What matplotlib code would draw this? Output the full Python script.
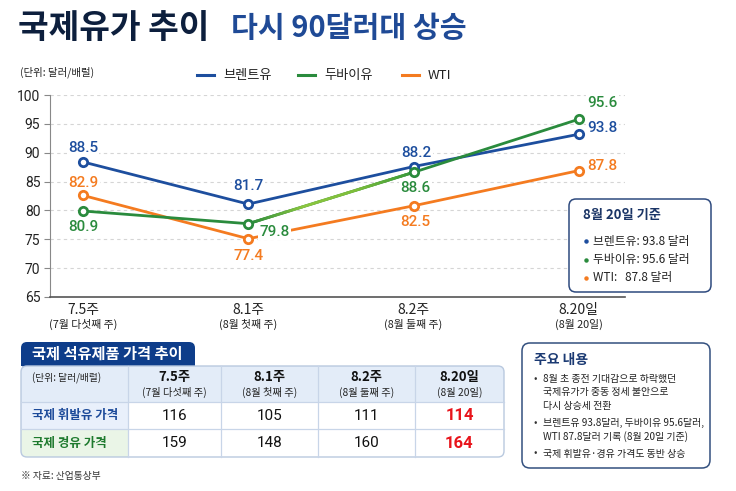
import numpy as np
import matplotlib
matplotlib.use("Agg")
import matplotlib.pyplot as plt
from matplotlib.patches import FancyBboxPatch, Rectangle
from matplotlib.collections import LineCollection
from matplotlib.colors import LinearSegmentedColormap
from matplotlib.transforms import blended_transform_factory

plt.rcParams['font.family'] = ['Noto Sans CJK KR', 'DejaVu Sans']
NUM_FONT = ['Roboto', 'Noto Sans CJK KR', 'DejaVu Sans']

# ---- 데이터 ----
periods = ['7.5주', '8.1주', '8.2주', '8.20일']
period_sub = ['(7월 다섯째 주)', '(8월 첫째 주)', '(8월 둘째 주)', '(8월 20일)']
series_names = ['브렌트유', '두바이유', 'WTI']
# 그림에 찍힌 위치에서 읽은 값
brent = [88.4, 81.1, 87.6, 93.2]
dubai = [79.9, 77.7, 86.6, 95.8]
wti = [82.6, 75.1, 80.8, 86.9]
# 라벨로 표기된 값
brent_lbl = ['88.5', '81.7', '88.2', '93.8']
dubai_lbl = ['80.9', '79.8', '88.6', '95.6']
wti_lbl = ['82.9', '77.4', '82.5', '87.8']
y_ticks = [65, 70, 75, 80, 85, 90, 95, 100]

table_rows = ['국제 휘발유 가격', '국제 경유 가격']
gasoline = [116, 105, 111, 114]
diesel = [159, 148, 160, 164]

C_BRENT = '#1d4e9e'
C_DUBAI = '#2a8b3d'
C_WTI = '#f47b20'
NAVY = '#0d1f3d'

fig = plt.figure(figsize=(7.36, 4.91), dpi=100)
fig.patch.set_facecolor('white')

# ---- 선 그래프 ----
ax = fig.add_axes([50 / 736, 1 - 297 / 491, 575 / 736, 202 / 491])
x = np.arange(len(periods))
ax.set_xlim(-0.2, 3.28)
ax.set_ylim(65, 100)
ax.set_yticks(y_ticks)
ax.set_yticklabels([str(v) for v in y_ticks], fontsize=10, color='#222222', family=NUM_FONT)
ax.set_xticks([])
for s in ['top', 'right']:
    ax.spines[s].set_visible(False)
ax.spines['left'].set_color('#888888')
ax.spines['bottom'].set_color('#555555')
ax.spines['bottom'].set_linewidth(1.2)
ax.tick_params(axis='y', length=4, color='#888888', pad=3)
for v in y_ticks[1:]:
    ax.axhline(v, color='#d5d5d5', lw=0.8, ls=(0, (3, 3)), zorder=0)

lw = 2.0
ax.plot(x, brent, color=C_BRENT, lw=lw, zorder=3)
ax.plot(x, wti, color=C_WTI, lw=lw, zorder=3)
ax.plot(x, dubai, color=C_DUBAI, lw=lw, zorder=3)

# 두바이유 8.1주 -> 8.2주 구간 그라데이션
t = np.linspace(0, 1, 41)
gx = x[1] + (x[2] - x[1]) * t
gy = dubai[1] + (dubai[2] - dubai[1]) * t
pts = np.column_stack([gx, gy]).reshape(-1, 1, 2)
segs = np.concatenate([pts[:-1], pts[1:]], axis=1)
cmap = LinearSegmentedColormap.from_list('g', ['#2a8b3d', '#8cc63f', '#7dbd3a', '#3a9a3a'])
lc = LineCollection(segs, cmap=cmap, lw=lw, zorder=3.1, capstyle='round')
lc.set_array(t[:-1])
ax.add_collection(lc)

for vals, col in [(brent, C_BRENT), (wti, C_WTI), (dubai, C_DUBAI)]:
    ax.plot(x, vals, ls='none', marker='o', ms=6, mfc='white', mec=col, mew=2, zorder=5)

lbl_kw = dict(textcoords='offset pixels', fontsize=11, fontweight='medium', family=NUM_FONT,
              ha='center', va='center', bbox=dict(fc='white', ec='none', pad=1.0))
brent_off = [(0, 14), (0, 18), (3, 14), (24, 6)]
dubai_off = [(0, -16), (26, -8), (2, -16), (24, 16)]
wti_off = [(0, 12), (0, -17), (2, -16), (24, 5)]
for vals, lbls, offs, col in [(brent, brent_lbl, brent_off, C_BRENT),
                              (dubai, dubai_lbl, dubai_off, C_DUBAI),
                              (wti, wti_lbl, wti_off, C_WTI)]:
    for i in range(len(vals)):
        ax.annotate(lbls[i], (x[i], vals[i]), xytext=offs[i], color=col, zorder=4, **lbl_kw)

tr = blended_transform_factory(ax.transData, ax.transAxes)
for i in range(len(periods)):
    ax.text(x[i], -0.065, periods[i], transform=tr, ha='center', va='center', fontsize=10, color='#222222')
    ax.text(x[i], -0.135, period_sub[i], transform=tr, ha='center', va='center', fontsize=7.8, color='#222222')

# ---- 오버레이 (제목, 범례, 박스, 표) ----
ov = fig.add_axes([0, 0, 1, 1], zorder=5)
ov.set_xlim(0, 736)
ov.set_ylim(491, 0)
ov.axis('off')

ov.text(18, 28, '국제유가 추이', fontsize=24, fontweight='bold', color=NAVY, va='center')
ov.text(231, 28, '다시 90달러대 상승', fontsize=21, fontweight='bold', color='#1f4a96', va='center')
ov.text(20, 72, '(단위: 달러/배럴)', fontsize=7.5, color='#222222', va='center')

leg_x = [197, 298, 402]
for lx, name, col in zip(leg_x, series_names, [C_BRENT, C_DUBAI, C_WTI]):
    ov.plot([lx, lx + 17], [75, 75], color=col, lw=2.2)
    ov.text(lx + 26, 75, name, fontsize=9.5, color='#222222', va='center')

# 8월 20일 기준 박스
box = FancyBboxPatch((569, 199), 142, 93, boxstyle='round,pad=0,rounding_size=7',
                     fc='white', ec='#2e4a7e', lw=1.1)
ov.add_patch(box)
ov.text(583, 215, '8월 20일 기준', fontsize=9.5, fontweight='bold', color='#1b3566', va='center')
info_vals = [brent_lbl[-1], dubai_lbl[-1], wti_lbl[-1]]
info_names = ['브렌트유: ', '두바이유: ', 'WTI:   ']
for j, (nm, v, col) in enumerate(zip(info_names, info_vals, [C_BRENT, C_DUBAI, C_WTI])):
    yy = 241 + j * 18.5
    ov.plot([586], [yy], marker='o', ms=2.2, color=col, ls='none')
    ov.text(593, yy, f'{nm}{v} 달러', fontsize=8.5, color='#222222', va='center')

# 표 제목 탭
tab = FancyBboxPatch((21, 342), 174, 26, boxstyle='round,pad=0,rounding_size=6', fc='#0e3d8a', ec='none')
ov.add_patch(tab)
ov.add_patch(Rectangle((21, 356), 174, 10, fc='#0e3d8a', ec='none'))
ov.text(32, 354, '국제 석유제품 가격 추이', fontsize=11, fontweight='bold', color='white', va='center')

# 표
tx0, tx1, ty0, ty1 = 21, 504, 366, 457
col_edges = [21, 128, 221, 318, 415, 504]
row_edges = [366, 402, 429, 457]
outer = FancyBboxPatch((tx0, ty0), tx1 - tx0, ty1 - ty0, boxstyle='round,pad=0,rounding_size=6',
                       fc='white', ec='none')
ov.add_patch(outer)
fills = [Rectangle((tx0, 366), tx1 - tx0, 36, fc='#e3ecf8', ec='none'),
         Rectangle((tx0, 402), 107, 27, fc='#e9f0fb', ec='none'),
         Rectangle((tx0, 429), 107, 28, fc='#eaf5e7', ec='none')]
for f in fills:
    ov.add_patch(f)
    f.set_clip_path(outer)
for ce in col_edges[1:-1]:
    ov.plot([ce, ce], [ty0, ty1], color='#c8d5e8', lw=0.9)
for re_ in row_edges[1:-1]:
    ov.plot([tx0, tx1], [re_, re_], color='#c8d5e8', lw=0.9)
ov.add_patch(FancyBboxPatch((tx0, ty0), tx1 - tx0, ty1 - ty0, boxstyle='round,pad=0,rounding_size=6',
                            fc='none', ec='#b9c9df', lw=1.0))

ov.text(32, 378, '(단위: 달러/배럴)', fontsize=7, color='#222222', va='center')
centers = [(col_edges[i] + col_edges[i + 1]) / 2 for i in range(1, 5)]
for i, cx in enumerate(centers):
    ov.text(cx, 377, periods[i], fontsize=9.5, fontweight='semibold', color='#111111', ha='center', va='center')
    ov.text(cx, 392, period_sub[i], fontsize=7.4, color='#222222', ha='center', va='center')

row_y = [416, 443]
row_cols = ['#1d4b9a', '#1e7a2e']
for r, (name, vals) in enumerate(zip(table_rows, [gasoline, diesel])):
    ov.text(32, row_y[r], name, fontsize=9, fontweight='bold', color=row_cols[r], va='center')
    for i, cx in enumerate(centers):
        last = i == len(centers) - 1
        ov.text(cx, row_y[r], str(vals[i]), fontsize=12 if last else 11, family=NUM_FONT,
                fontweight='bold' if last else 'normal',
                color='#e8141b' if last else '#111111', ha='center', va='center')

ov.text(21, 476, '※ 자료: 산업통상부', fontsize=7, color='#333333', va='center')

# 주요 내용 박스
ov.add_patch(FancyBboxPatch((522, 343), 188, 125, boxstyle='round,pad=0,rounding_size=8',
                            fc='white', ec='#33507f', lw=1.1))
ov.text(534, 360, '주요 내용', fontsize=10, fontweight='bold', color='#1b3a73', va='center')
notes = [['8월 초 종전 기대감으로 하락했던', '국제유가가 중동 정세 불안으로', '다시 상승세 전환'],
         ['브렌트유 93.8달러, 두바이유 95.6달러,', 'WTI 87.8달러 기록 (8월 20일 기준)'],
         ['국제 휘발유·경유 가격도 동반 상승']]
yy = 379
for para in notes:
    ov.text(534, yy, '•', fontsize=7.2, color='#333333', va='center')
    for line in para:
        ov.text(543, yy, line, fontsize=7.2, color='#222222', va='center')
        yy += 13.5
    yy += 3.5

fig.savefig('out.png', dpi=100, facecolor='white')
